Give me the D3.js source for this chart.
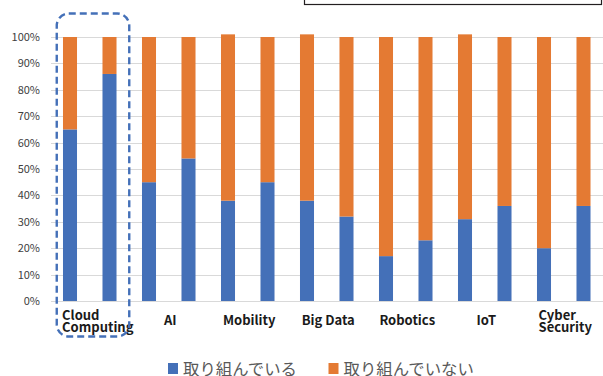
<!DOCTYPE html>
<html>
<head>
<meta charset="utf-8">
<script src="https://cdn.jsdelivr.net/npm/d3@7"></script>
<style>
  body { margin: 0; background: #fff; }
  svg { display: block; font-family: "Noto Sans CJK JP", "Noto Sans", sans-serif; }
</style>
</head>
<body>
<div class="chart"></div>
<script>
// categories, two bars per category
var categories = ['Cloud Computing', 'AI', 'Mobility', 'Big Data', 'Robotics', 'IoT', 'Cyber Security'];
// blue series (取り組んでいる), two values per category
var doingValues = [65, 86, 45, 54, 38, 45, 38, 32, 17, 23, 31, 36, 20, 36];
// orange series (取り組んでいない)
var notDoingValues = [35, 14, 55, 46, 63, 55, 63, 68, 83, 77, 70, 64, 80, 64];
var seriesNames = ['取り組んでいる', '取り組んでいない'];
var tickValues = [0, 10, 20, 30, 40, 50, 60, 70, 80, 90, 100];

var svgWidth = 603;
var svgHeight = 376;
var blue = '#4470b8';
var orange = '#e47a33';

var svg = d3.select('.chart').append('svg')
  .attr('width', svgWidth)
  .attr('height', svgHeight);

// group scale + bar scale inside each group
var x0 = d3.scaleBand()
  .domain(categories)
  .range([50.25, 603.25])
  .padding(0);

var x1 = d3.scaleBand()
  .domain([0, 1])
  .range([0, x0.bandwidth()])
  .paddingInner(0.645)
  .paddingOuter(0.3225);

var yScale = d3.scaleLinear()
  .domain([0, 100])
  .range([301, 37]);

// gridlines
svg.append('g')
  .selectAll('line')
  .data(tickValues)
  .enter()
  .append('line')
  .attr('x1', 51)
  .attr('x2', 603)
  .attr('y1', function(d) { return Math.round(yScale(d)) + 0.5; })
  .attr('y2', function(d) { return Math.round(yScale(d)) + 0.5; })
  .attr('stroke', '#d9d9d9')
  .attr('stroke-width', 1.2);

// y axis labels
var yAxis = d3.axisLeft(yScale)
  .tickValues(tickValues)
  .tickSize(0)
  .tickPadding(0)
  .tickFormat(function(d) { return d + '%'; });

var yg = svg.append('g')
  .attr('transform', 'translate(40,0)')
  .call(yAxis);
yg.select('.domain').remove();
yg.selectAll('text')
  .attr('fill', '#404040')
  .style('font-size', '11px')
  .style('font-family', '"Noto Sans CJK JP", sans-serif');

// bars
var bars = doingValues.map(function(v, i) {
  return { cat: categories[Math.floor(i / 2)], idx: i % 2, doing: v, notDoing: notDoingValues[i] };
});

function barX(d) { return x0(d.cat) + x1(d.idx); }

svg.append('g').selectAll('rect')
  .data(bars)
  .enter()
  .append('rect')
  .attr('x', barX)
  .attr('width', x1.bandwidth())
  .attr('y', function(d) { return yScale(d.doing); })
  .attr('height', function(d) { return yScale(0) - yScale(d.doing); })
  .attr('fill', blue);

svg.append('g').selectAll('rect')
  .data(bars)
  .enter()
  .append('rect')
  .attr('x', barX)
  .attr('width', x1.bandwidth())
  .attr('y', function(d) { return yScale(d.doing + d.notDoing); })
  .attr('height', function(d) { return yScale(d.doing) - yScale(d.doing + d.notDoing); })
  .attr('fill', orange);

// category labels (two-line ones are left aligned as a block)
categories.forEach(function(c) {
  var lines = c.split(' ');
  if (c === 'Big Data') lines = [c];
  var cx = x0(c) + x0.bandwidth() / 2;
  var t = svg.append('text')
    .attr('fill', '#1a1a1a')
    .style('font-size', '13px')
    .style('font-weight', 'bold');
  var baseY = lines.length === 1 ? 325 : 319.5;
  lines.forEach(function(l, j) {
    t.append('tspan').attr('x', 0).attr('y', baseY + j * 12.5).text(l);
  });
  var w = d3.max(t.selectAll('tspan').nodes(), function(n) { return n.getComputedTextLength(); });
  var shift = c === 'Cloud Computing' ? 8 : 1.5;
  t.selectAll('tspan').attr('x', cx - w / 2 + shift);
});

// dashed highlight around Cloud Computing
svg.append('rect')
  .attr('x', x0('Cloud Computing') + 6.5)
  .attr('y', 13.5)
  .attr('width', 72.5)
  .attr('height', 323)
  .attr('rx', 12)
  .attr('fill', 'none')
  .attr('stroke', blue)
  .attr('stroke-width', 2.4)
  .attr('stroke-dasharray', '7,4');

// partially visible box at top
svg.append('rect')
  .attr('x', 304.5)
  .attr('y', -10)
  .attr('width', 297)
  .attr('height', 14.5)
  .attr('fill', 'none')
  .attr('stroke', '#231f20')
  .attr('stroke-width', 1.2);

// legend
var legendItems = [
  { name: seriesNames[0], color: blue, x: 168 },
  { name: seriesNames[1], color: orange, x: 328.5 }
];
legendItems.forEach(function(item) {
  svg.append('rect')
    .attr('x', item.x)
    .attr('y', 363)
    .attr('width', 10)
    .attr('height', 11)
    .attr('fill', item.color);
  svg.append('text')
    .attr('x', item.x + 15)
    .attr('y', 374.5)
    .attr('fill', '#595959')
    .style('font-size', '16.4px')
    .text(item.name);
});
</script>
</body>
</html>
